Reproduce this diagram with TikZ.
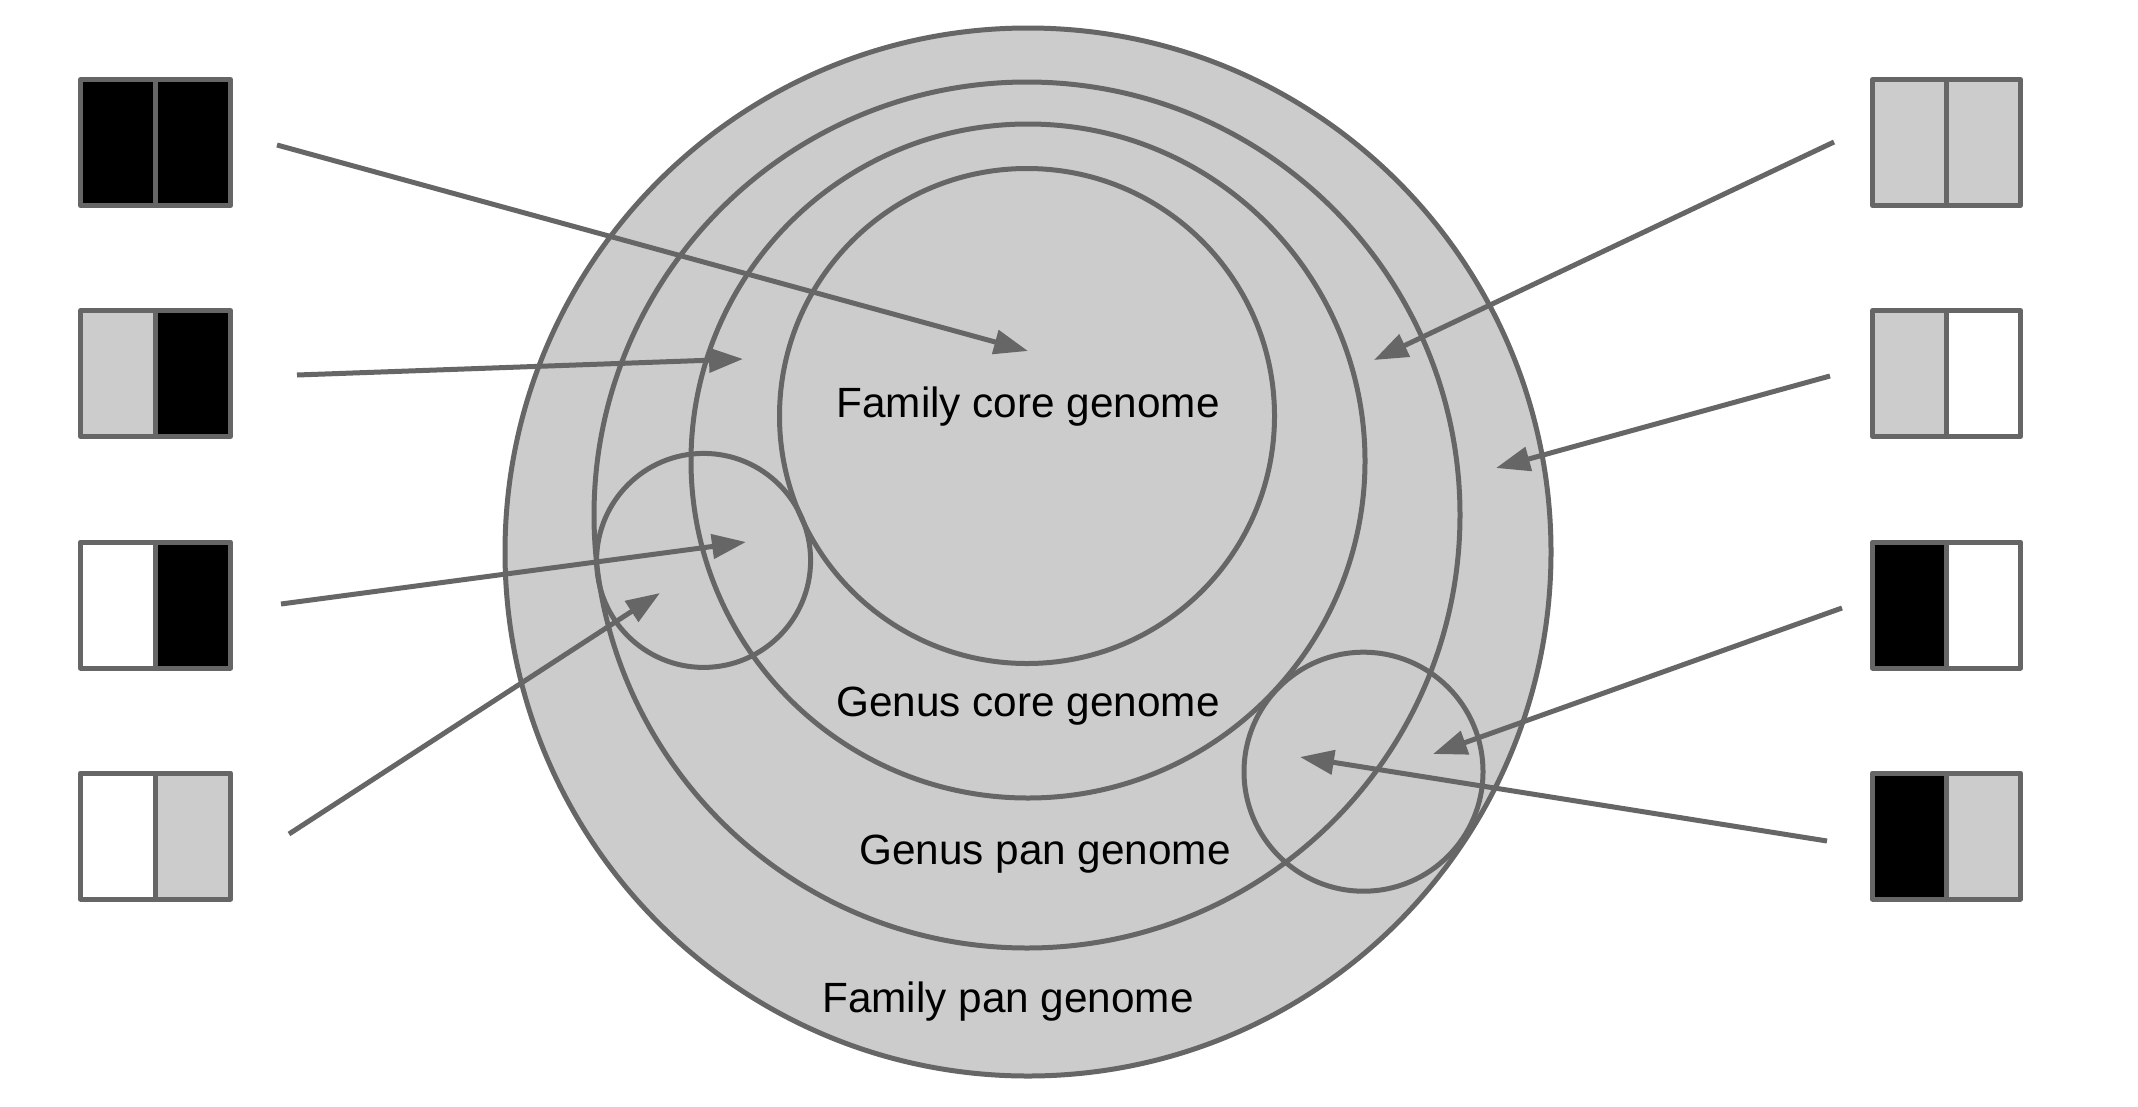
\documentclass[tikz,border=0pt]{standalone}
\usepackage{fontspec}
\setmainfont{Liberation Sans}
\usetikzlibrary{arrows.meta}
\definecolor{edgegray}{HTML}{666666}
\definecolor{fillgray}{HTML}{CCCCCC}
\begin{document}
\begin{tikzpicture}[x=1pt,y=-1pt,
  ring/.style={draw=edgegray,line width=5pt},
  cell/.style={draw=edgegray,line width=5pt,line join=round},
  arr/.style={draw=edgegray,line width=5pt,-{Triangle[length=34pt,width=24pt]}},
  lbl/.style={font=\fontsize{42.3}{50}\selectfont,anchor=base,inner sep=0pt,text=black}]
\useasboundingbox (0,0) rectangle (2138,1106);
\fill[white] (0,0) rectangle (2138,1106);
% circles
\draw[ring,fill=fillgray] (1028,552) ellipse [x radius=523, y radius=524];
\draw[ring] (1027,515) circle [radius=433];
\draw[ring] (1028,461) circle [radius=337];
\draw[ring] (1027,416) circle [radius=247.5];
\draw[ring] (703.6,560.4) circle [radius=107];
\draw[ring] (1363.5,771.7) circle [radius=119.5];
% labels
\node[lbl] (famcore) at (1028,417) {Family core genome};
\node[lbl] (gencore) at (1028,716) {Genus core genome};
\node[lbl] (genpan) at (1045,864) {Genus pan genome};
\node[lbl] (fampan) at (1008,1012) {Family pan genome};
% boxes
\newcommand\genebox[5]{%
  \draw[cell,fill=#4] (#1,#2) rectangle ++(#3,126);
  \draw[cell,fill=#5] (#1+#3,#2) rectangle ++(#3,126);
}
\genebox{80.5}{79.5}{75}{black}{black}
\genebox{80.5}{310.5}{75}{fillgray}{black}
\genebox{80.5}{542}{75}{white}{black}
\genebox{80.5}{773}{75}{white}{fillgray}
\genebox{1872.5}{79.5}{74}{fillgray}{fillgray}
\genebox{1872.5}{310.5}{74}{fillgray}{white}
\genebox{1872.5}{542}{74}{black}{white}
\genebox{1872.5}{773}{74}{black}{fillgray}
% arrow endpoints
\coordinate (s1) at (277,145);  \coordinate (t1) at (1028,351);
\coordinate (s2) at (297,375);  \coordinate (t2) at (743,359);
\coordinate (s3) at (281,604);  \coordinate (t3) at (746,542);
\coordinate (s4) at (289,834);  \coordinate (t4) at (660,593);
\coordinate (s5) at (1834,142); \coordinate (t5) at (1374,360);
\coordinate (s6) at (1830,376); \coordinate (t6) at (1496,468);
\coordinate (s7) at (1842,608); \coordinate (t7) at (1433,754);
\coordinate (s8) at (1827,841); \coordinate (t8) at (1300,757);
\foreach \i in {1,...,8} {\draw[arr] (s\i) -- (t\i);}
\end{tikzpicture}
\end{document}
